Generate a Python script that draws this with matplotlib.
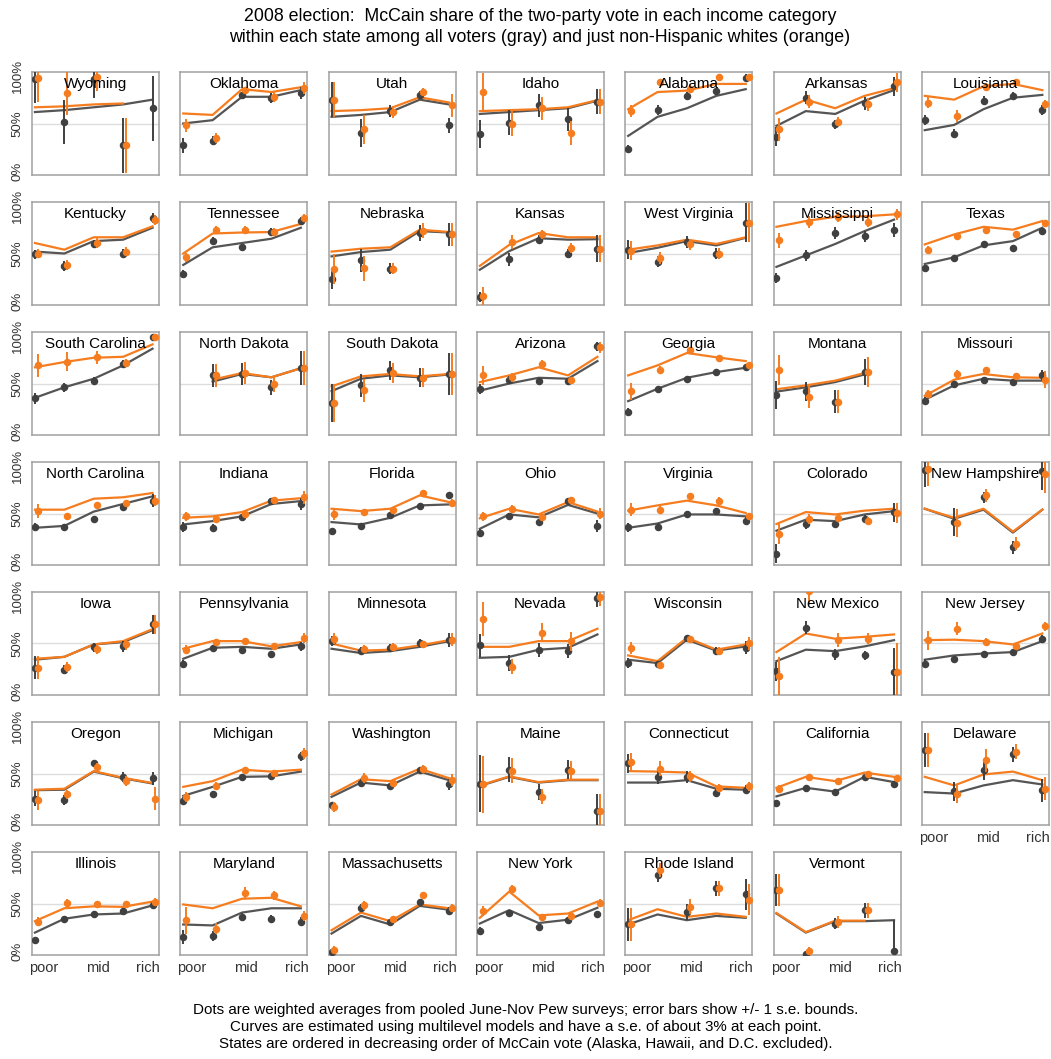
import numpy as np
import matplotlib
matplotlib.use("Agg")
import matplotlib.pyplot as plt

plt.rcParams["font.family"] = ["Liberation Sans", "DejaVu Sans"]

nan = np.nan

states = [
    "Wyoming", "Oklahoma", "Utah", "Idaho", "Alabama", "Arkansas", "Louisiana",
    "Kentucky", "Tennessee", "Nebraska", "Kansas", "West Virginia", "Mississippi", "Texas",
    "South Carolina", "North Dakota", "South Dakota", "Arizona", "Georgia", "Montana", "Missouri",
    "North Carolina", "Indiana", "Florida", "Ohio", "Virginia", "Colorado", "New Hampshire",
    "Iowa", "Pennsylvania", "Minnesota", "Nevada", "Wisconsin", "New Mexico", "New Jersey",
    "Oregon", "Michigan", "Washington", "Maine", "Connecticut", "California", "Delaware",
    "Illinois", "Maryland", "Massachusetts", "New York", "Rhode Island", "Vermont",
]

income = [1, 2, 3, 4, 5]
tick_pos = [1.3, 3.15, 4.85]
tick_labels = ["poor", "mid", "rich"]

# multilevel model curves, all voters (gray)
all_curve = [
    [0.62, 0.64, 0.67, 0.70, 0.75], [0.50, 0.535, 0.78, 0.78, 0.85], [0.57, 0.59, 0.62, 0.75, 0.70],
    [0.60, 0.62, 0.64, 0.66, 0.74], [0.37, 0.57, 0.66, 0.79, 0.86], [0.475, 0.63, 0.60, 0.74, 0.85],
    [0.43, 0.485, 0.65, 0.77, 0.80],
    [0.52, 0.50, 0.63, 0.645, 0.77], [0.38, 0.565, 0.61, 0.655, 0.77], [0.47, 0.515, 0.54, 0.735, 0.72],
    [0.33, 0.525, 0.66, 0.645, 0.65], [0.505, 0.56, 0.63, 0.585, 0.665], [0.36, 0.48, 0.60, 0.735, 0.855],
    [0.39, 0.46, 0.585, 0.63, 0.77],
    [0.35, 0.46, 0.55, 0.69, 0.865], [nan, 0.52, 0.60, 0.565, 0.66], [0.42, 0.55, 0.585, 0.565, 0.595],
    [0.425, 0.50, 0.56, 0.55, 0.735], [0.315, 0.445, 0.56, 0.62, 0.665], [0.415, 0.46, 0.515, 0.595, nan],
    [0.33, 0.48, 0.55, 0.53, 0.53],
    [0.35, 0.37, 0.52, 0.60, 0.68], [0.385, 0.42, 0.47, 0.60, 0.63], [0.41, 0.385, 0.455, 0.585, 0.595],
    [0.34, 0.49, 0.46, 0.59, 0.50], [0.35, 0.395, 0.49, 0.49, 0.47], [0.32, 0.435, 0.42, 0.49, 0.525],
    [0.55, 0.445, 0.54, 0.30, 0.54],
    [0.33, 0.36, 0.49, 0.515, 0.64], [0.34, 0.455, 0.465, 0.445, 0.49], [0.445, 0.40, 0.42, 0.465, 0.525],
    [0.35, 0.36, 0.435, 0.455, 0.595], [0.33, 0.295, 0.54, 0.425, 0.47], [0.315, 0.435, 0.42, 0.47, 0.535],
    [0.33, 0.375, 0.395, 0.41, 0.525],
    [0.325, 0.33, 0.52, 0.45, 0.395], [0.265, 0.36, 0.465, 0.47, 0.52], [0.255, 0.405, 0.375, 0.52, 0.43],
    [0.37, 0.465, 0.405, 0.43, 0.43], [0.405, 0.405, 0.43, 0.34, 0.33], [0.26, 0.35, 0.31, 0.465, 0.41],
    [0.305, 0.29, 0.375, 0.43, 0.385],
    [0.195, 0.34, 0.385, 0.395, 0.48], [0.28, 0.27, 0.405, 0.45, 0.45], [0.185, 0.37, 0.28, 0.475, 0.435],
    [0.29, 0.43, 0.295, 0.33, 0.455], [0.28, 0.385, 0.325, 0.37, 0.35], [0.395, 0.195, 0.315, 0.315, 0.325],
]

# multilevel model curves, non-Hispanic whites (orange)
white_curve = [
    [0.67, 0.68, 0.70, 0.71, nan], [0.605, 0.59, 0.86, 0.83, 0.88], [0.63, 0.64, 0.66, 0.775, 0.72],
    [0.63, 0.64, 0.65, 0.67, 0.745], [0.65, 0.83, 0.845, 0.915, 0.915], [0.605, 0.75, 0.66, 0.79, 0.87],
    [0.79, 0.75, 0.89, 0.915, 0.85],
    [0.61, 0.54, 0.67, 0.67, 0.785], [0.50, 0.71, 0.72, 0.725, 0.81], [0.52, 0.55, 0.565, 0.75, 0.725],
    [0.37, 0.59, 0.715, 0.67, 0.67], [0.54, 0.585, 0.645, 0.60, 0.67], [0.78, 0.84, 0.885, 0.89, 0.91],
    [0.595, 0.70, 0.78, 0.75, 0.84],
    [0.67, 0.725, 0.77, 0.78, 0.91], [nan, 0.54, 0.61, 0.565, 0.66], [0.47, 0.575, 0.60, 0.575, 0.60],
    [0.515, 0.585, 0.67, 0.585, 0.78], [0.585, 0.69, 0.82, 0.775, 0.735], [0.44, 0.48, 0.53, 0.61, nan],
    [0.37, 0.54, 0.60, 0.565, 0.56],
    [0.54, 0.54, 0.655, 0.67, 0.715], [0.455, 0.47, 0.515, 0.635, 0.66], [0.55, 0.525, 0.55, 0.69, 0.62],
    [0.45, 0.55, 0.49, 0.62, 0.52], [0.53, 0.585, 0.635, 0.585, 0.505], [0.39, 0.515, 0.49, 0.53, 0.55],
    [0.55, 0.455, 0.55, 0.31, 0.54],
    [0.34, 0.36, 0.49, 0.525, 0.65], [0.445, 0.525, 0.525, 0.47, 0.515], [0.50, 0.425, 0.435, 0.48, 0.535],
    [0.465, 0.465, 0.525, 0.525, 0.655], [0.375, 0.315, 0.56, 0.435, 0.49], [0.41, 0.605, 0.55, 0.57, 0.595],
    [0.535, 0.54, 0.525, 0.49, 0.605],
    [0.33, 0.34, 0.525, 0.455, 0.40], [0.36, 0.42, 0.54, 0.52, 0.54], [0.28, 0.44, 0.42, 0.55, 0.45],
    [0.375, 0.47, 0.41, 0.435, 0.435], [0.525, 0.52, 0.51, 0.365, 0.35], [0.35, 0.465, 0.42, 0.51, 0.465],
    [0.465, 0.375, 0.49, 0.52, 0.43],
    [0.315, 0.45, 0.47, 0.465, 0.52], [0.49, 0.45, 0.55, 0.56, 0.47], [0.22, 0.405, 0.315, 0.49, 0.45],
    [0.35, 0.625, 0.375, 0.395, 0.52], [0.325, 0.44, 0.36, 0.395, 0.36], [0.40, 0.20, 0.32, 0.32, nan],
]

# pooled Pew survey averages, all voters
all_dots = [
    [0.97, 0.52, 0.97, 0.27, 0.66], [0.27, 0.32, 0.80, 0.77, 0.82], [0.75, 0.40, 0.63, 0.80, 0.48],
    [0.39, 0.51, 0.69, 0.545, 0.73], [0.23, 0.64, 0.79, 0.84, 0.98], [0.36, 0.77, 0.49, 0.71, 0.89],
    [0.535, 0.395, 0.74, 0.79, 0.64],
    [0.49, 0.37, 0.60, 0.50, 0.87], [0.285, 0.63, 0.565, 0.725, 0.84], [0.23, 0.43, 0.34, 0.715, 0.70],
    [0.045, 0.44, 0.645, 0.50, 0.55], [0.54, 0.415, 0.62, 0.50, 0.825], [0.245, 0.48, 0.715, 0.68, 0.745],
    [0.35, 0.45, 0.595, 0.555, 0.735],
    [0.345, 0.46, 0.53, 0.705, 0.99], [nan, 0.585, 0.60, 0.46, 0.66], [0.30, 0.48, 0.64, 0.56, 0.60],
    [0.44, 0.54, 0.53, 0.53, 0.89], [0.20, 0.44, 0.55, 0.62, 0.67], [0.38, 0.42, 0.31, 0.62, nan],
    [0.32, 0.50, 0.54, 0.515, 0.585],
    [0.36, 0.36, 0.445, 0.565, 0.635], [0.36, 0.35, 0.46, 0.63, 0.60], [0.32, 0.37, 0.48, 0.575, 0.69],
    [0.30, 0.47, 0.41, 0.635, 0.37], [0.355, 0.36, 0.50, 0.525, 0.425], [0.08, 0.385, 0.385, 0.445, 0.515],
    [0.96, 0.41, 0.67, 0.145, 0.95],
    [0.245, 0.225, 0.46, 0.47, 0.70], [0.29, 0.455, 0.435, 0.385, 0.47], [0.525, 0.42, 0.455, 0.505, 0.535],
    [0.48, 0.295, 0.43, 0.42, 0.98], [0.295, 0.28, 0.56, 0.42, 0.455], [0.21, 0.665, 0.385, 0.375, 0.20],
    [0.29, 0.34, 0.395, 0.41, 0.55],
    [0.235, 0.22, 0.605, 0.465, 0.45], [0.21, 0.28, 0.465, 0.47, 0.68], [0.165, 0.405, 0.37, 0.535, 0.385],
    [0.395, 0.54, 0.305, 0.54, 0.105], [0.605, 0.465, 0.465, 0.295, 0.33], [0.195, 0.35, 0.31, 0.465, 0.385],
    [0.745, 0.315, 0.535, 0.70, 0.325],
    [0.115, 0.34, 0.395, 0.42, 0.48], [0.15, 0.16, 0.36, 0.34, 0.31], [-0.01, 0.45, 0.305, 0.515, 0.42],
    [0.21, 0.405, 0.255, 0.33, 0.385], [0.28, 0.80, 0.41, 0.66, 0.595], [0.64, -0.03, 0.29, 0.43, 0.0],
]

all_se = [
    [0.25, 0.23, 0.20, 0.29, 0.34], [0.075, 0.05, 0.03, 0.05, 0.06], [0.18, 0.15, 0.06, 0.04, 0.08],
    [0.15, 0.13, 0.12, 0.12, 0.13], [0.04, 0.05, 0.04, 0.03, 0.04], [0.10, 0.07, 0.05, 0.07, 0.10],
    [0.05, 0.05, 0.05, 0.04, 0.05],
    [0.05, 0.05, 0.04, 0.05, 0.05], [0.04, 0.04, 0.03, 0.04, 0.04], [0.10, 0.12, 0.06, 0.08, 0.12],
    [0.05, 0.07, 0.05, 0.05, 0.14], [0.10, 0.06, 0.06, 0.06, 0.20], [0.05, 0.06, 0.06, 0.06, 0.07],
    [0.03, 0.03, 0.02, 0.02, 0.03],
    [0.06, 0.05, 0.04, 0.04, 0.03], [nan, 0.12, 0.12, 0.08, 0.18], [0.20, 0.12, 0.10, 0.10, 0.22],
    [0.05, 0.04, 0.03, 0.03, 0.05], [0.04, 0.03, 0.03, 0.03, 0.03], [0.15, 0.10, 0.12, 0.14, nan],
    [0.04, 0.03, 0.03, 0.03, 0.06],
    [0.04, 0.03, 0.03, 0.03, 0.07], [0.05, 0.04, 0.03, 0.03, 0.06], [0.03, 0.02, 0.02, 0.02, 0.03],
    [0.04, 0.03, 0.03, 0.03, 0.06], [0.05, 0.04, 0.03, 0.03, 0.04], [0.10, 0.05, 0.04, 0.04, 0.10],
    [0.18, 0.15, 0.06, 0.07, 0.20],
    [0.12, 0.05, 0.05, 0.06, 0.10], [0.04, 0.03, 0.03, 0.03, 0.05], [0.05, 0.04, 0.04, 0.04, 0.07],
    [0.12, 0.08, 0.07, 0.07, 0.10], [0.05, 0.03, 0.03, 0.04, 0.07], [0.10, 0.07, 0.06, 0.05, 0.25],
    [0.05, 0.03, 0.03, 0.03, 0.04],
    [0.08, 0.05, 0.04, 0.05, 0.07], [0.04, 0.03, 0.03, 0.03, 0.05], [0.04, 0.04, 0.03, 0.03, 0.06],
    [0.30, 0.13, 0.08, 0.10, 0.18], [0.10, 0.08, 0.06, 0.04, 0.05], [0.03, 0.02, 0.02, 0.02, 0.03],
    [0.18, 0.10, 0.10, 0.08, 0.12],
    [0.03, 0.03, 0.03, 0.03, 0.04], [0.07, 0.05, 0.04, 0.04, 0.05], [0.03, 0.04, 0.03, 0.03, 0.04],
    [0.04, 0.03, 0.02, 0.02, 0.04], [0.17, 0.07, 0.08, 0.08, 0.16], [0.17, 0.03, 0.06, 0.08, 0.33],
]

# pooled Pew survey averages, non-Hispanic whites
white_dots = [
    [0.98, 0.82, 0.99, 0.27, nan], [0.48, 0.35, 0.85, 0.78, 0.87], [0.75, 0.44, 0.62, 0.83, 0.69],
    [0.83, 0.50, 0.66, 0.40, 0.73], [0.63, 0.93, 0.86, 0.99, 0.99], [0.44, 0.73, 0.52, 0.70, 0.93],
    [0.72, 0.58, 0.88, 0.94, 0.70],
    [0.50, 0.38, 0.61, 0.52, 0.85], [0.46, 0.75, 0.75, 0.725, 0.87], [0.34, 0.345, 0.34, 0.74, 0.70],
    [0.055, 0.62, 0.70, 0.56, 0.55], [0.53, 0.455, 0.595, 0.50, 0.825], [0.64, 0.83, 0.885, 0.83, 0.91],
    [0.54, 0.68, 0.75, 0.70, 0.815],
    [0.69, 0.73, 0.775, 0.72, 0.99], [nan, 0.585, 0.61, 0.49, 0.66], [0.30, 0.43, 0.61, 0.56, 0.595],
    [0.585, 0.565, 0.705, 0.54, 0.88], [0.42, 0.645, 0.85, 0.77, 0.69], [0.64, 0.36, 0.31, 0.62, nan],
    [0.39, 0.60, 0.64, 0.575, 0.54],
    [0.525, 0.47, 0.585, 0.61, 0.635], [0.47, 0.445, 0.50, 0.645, 0.67], [0.49, 0.515, 0.54, 0.715, 0.61],
    [0.47, 0.55, 0.46, 0.645, 0.50], [0.54, 0.54, 0.68, 0.63, 0.47], [0.285, 0.445, 0.455, 0.425, 0.505],
    [0.97, 0.40, 0.69, 0.185, 0.91],
    [0.245, 0.255, 0.445, 0.49, 0.70], [0.435, 0.515, 0.525, 0.47, 0.56], [0.55, 0.445, 0.46, 0.49, 0.54],
    [0.76, 0.255, 0.615, 0.525, 0.99], [0.455, 0.27, 0.55, 0.42, 0.50], [0.155, 1.05, 0.535, 0.55, 0.20],
    [0.535, 0.655, 0.515, 0.47, 0.68],
    [0.22, 0.28, 0.57, 0.42, 0.235], [0.255, 0.37, 0.535, 0.51, 0.71], [0.15, 0.455, 0.405, 0.55, 0.43],
    [0.385, 0.53, 0.255, 0.53, 0.105], [0.62, 0.55, 0.47, 0.35, 0.365], [0.34, 0.46, 0.42, 0.495, 0.455],
    [0.745, 0.29, 0.64, 0.73, 0.34],
    [0.31, 0.505, 0.49, 0.49, 0.52], [0.325, 0.235, 0.61, 0.585, 0.37], [0.01, 0.48, 0.34, 0.585, 0.45],
    [0.42, 0.65, 0.36, 0.37, 0.51], [0.28, 0.85, 0.465, 0.66, 0.54], [0.64, 0.0, 0.305, 0.43, nan],
]

white_se = [
    [0.25, 0.23, 0.15, 0.29, nan], [0.07, 0.05, 0.03, 0.05, 0.06], [0.18, 0.15, 0.06, 0.04, 0.12],
    [0.20, 0.13, 0.12, 0.13, 0.13], [0.06, 0.04, 0.04, 0.03, 0.03], [0.12, 0.07, 0.05, 0.07, 0.10],
    [0.06, 0.06, 0.04, 0.03, 0.05],
    [0.05, 0.05, 0.05, 0.05, 0.05], [0.05, 0.04, 0.04, 0.04, 0.04], [0.16, 0.13, 0.06, 0.08, 0.12],
    [0.09, 0.07, 0.05, 0.05, 0.14], [0.10, 0.06, 0.06, 0.06, 0.20], [0.08, 0.06, 0.05, 0.05, 0.06],
    [0.04, 0.03, 0.03, 0.02, 0.03],
    [0.12, 0.10, 0.07, 0.04, 0.03], [nan, 0.12, 0.12, 0.08, 0.18], [0.20, 0.12, 0.10, 0.10, 0.22],
    [0.10, 0.05, 0.04, 0.03, 0.06], [0.09, 0.04, 0.03, 0.03, 0.03], [0.16, 0.12, 0.12, 0.16, nan],
    [0.04, 0.04, 0.03, 0.03, 0.09],
    [0.07, 0.04, 0.04, 0.03, 0.06], [0.05, 0.04, 0.03, 0.03, 0.07], [0.06, 0.03, 0.03, 0.03, 0.04],
    [0.05, 0.04, 0.03, 0.03, 0.06], [0.07, 0.05, 0.03, 0.04, 0.04], [0.10, 0.05, 0.04, 0.04, 0.10],
    [0.18, 0.15, 0.07, 0.07, 0.20],
    [0.12, 0.05, 0.05, 0.06, 0.10], [0.05, 0.03, 0.03, 0.03, 0.05], [0.06, 0.04, 0.04, 0.04, 0.07],
    [0.18, 0.08, 0.10, 0.10, 0.10], [0.06, 0.03, 0.03, 0.04, 0.07], [0.20, 0.15, 0.07, 0.06, 0.30],
    [0.10, 0.07, 0.04, 0.03, 0.05],
    [0.10, 0.05, 0.04, 0.05, 0.12], [0.05, 0.04, 0.03, 0.03, 0.06], [0.05, 0.05, 0.04, 0.04, 0.06],
    [0.30, 0.13, 0.08, 0.10, 0.18], [0.10, 0.08, 0.06, 0.04, 0.05], [0.04, 0.03, 0.03, 0.02, 0.03],
    [0.18, 0.10, 0.12, 0.08, 0.12],
    [0.05, 0.04, 0.03, 0.03, 0.04], [0.14, 0.06, 0.06, 0.05, 0.05], [0.04, 0.05, 0.03, 0.04, 0.04],
    [0.05, 0.04, 0.03, 0.03, 0.04], [0.17, 0.07, 0.08, 0.08, 0.16], [0.17, 0.04, 0.06, 0.08, nan],
]

GRAY = "#404040"
GRAY_LINE = "#555555"
ORANGE = "#f57d1f"

W, H = 1051, 1059
fig = plt.figure(figsize=(W / 100, H / 100), dpi=100)

ncol = 7
x = np.array(income, dtype=float)

for i, name in enumerate(states):
    row, col = divmod(i, ncol)
    left = 32 + 148.3 * col
    top = 72 + 130 * row
    ax = fig.add_axes([left / W, 1 - (top + 103) / H, 127 / W, 103 / H])

    ax.axhline(0.5, color="#dddddd", lw=1, zorder=1)
    ax.plot(x, np.array(all_curve[i], dtype=float), color=GRAY_LINE, lw=1.6, zorder=2)
    ax.plot(x, np.array(white_curve[i], dtype=float), color=ORANGE, lw=1.6, zorder=3)
    ax.errorbar(x, np.array(all_dots[i], dtype=float), yerr=np.array(all_se[i], dtype=float),
                fmt="o", color=GRAY, ms=4.4, elinewidth=1.4, capsize=0, zorder=4)
    ax.errorbar(x + 0.1, np.array(white_dots[i], dtype=float), yerr=np.array(white_se[i], dtype=float),
                fmt="o", color=ORANGE, ms=4.4, elinewidth=1.4, capsize=0, zorder=5)

    ax.text(0.5, 0.885, name, transform=ax.transAxes, ha="center", va="center",
            fontsize=11, color="black", zorder=6)

    ax.set_xlim(0.9, 5.22)
    ax.set_ylim(-0.04, 1.04)
    for sp in ax.spines.values():
        sp.set_color("#a0a0a0")
        sp.set_linewidth(1.1)

    if col == 0:
        ax.set_yticks([0, 0.5, 1])
        ax.set_yticklabels(["0%", "50%", "100%"], rotation=90, va="center",
                           fontsize=9.5, color="#333333")
        ax.tick_params(axis="y", length=0, pad=6)
    else:
        ax.set_yticks([])

    last_in_col = (i + ncol >= len(states))
    if last_in_col:
        ax.set_xticks(tick_pos)
        ax.set_xticklabels(tick_labels, fontsize=10.5, color="#333333")
        ax.tick_params(axis="x", length=0, pad=4)
    else:
        ax.set_xticks([])

fig.text(540 / W, 1 - 27 / H,
         "2008 election:  McCain share of the two-party vote in each income category\n"
         "within each state among all voters (gray) and just non-Hispanic whites (orange)",
         ha="center", va="center", fontsize=12.8, linespacing=1.25)

fig.text(0.5, 1 - 1027 / H,
         "Dots are weighted averages from pooled June-Nov Pew surveys; error bars show +/- 1 s.e. bounds.\n"
         "Curves are estimated using multilevel models and have a s.e. of about 3% at each point.\n"
         "States are ordered in decreasing order of McCain vote (Alaska, Hawaii, and D.C. excluded).",
         ha="center", va="center", fontsize=10.9, linespacing=1.25)

fig.savefig("out.png", dpi=100)
